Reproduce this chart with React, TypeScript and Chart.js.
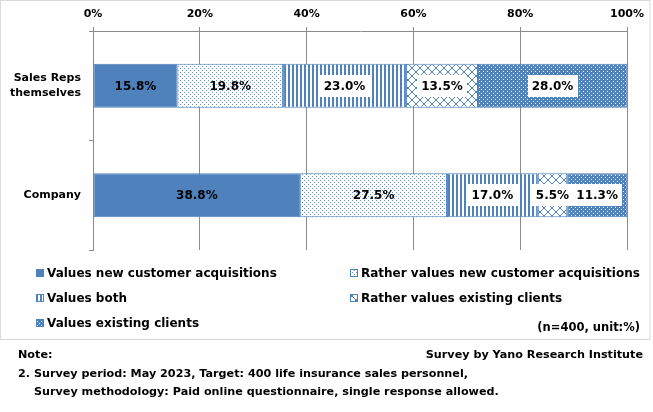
import React, { useEffect, useRef } from 'react';
import { Chart, registerables } from 'chart.js';

Chart.register(...registerables);

// ---------- data ----------
const categories: (string | string[])[] = [['Sales Reps', 'themselves'], 'Company'];
const seriesNames = [
  'Values new customer acquisitions',
  'Rather values new customer acquisitions',
  'Values both',
  'Rather values existing clients',
  'Values existing clients',
];
const valuesNewAcquisitions = [15.8, 38.8];
const ratherValuesNewAcquisitions = [19.8, 27.5];
const valuesBoth = [23.0, 17.0];
const ratherValuesExisting = [13.5, 5.5];
const valuesExisting = [28.0, 11.3];
const xTickValues = [0, 20, 40, 60, 80, 100];
const sampleNote = '(n=400, unit:%)';
const noteTitle = 'Note:';
const sourceText = 'Survey by Yano Research Institute';
const noteLine1 = '2. Survey period: May 2023, Target: 400 life insurance sales personnel,';
const noteLine2 = 'Survey methodology: Paid online questionnaire, single response allowed.';

// ---------- styles ----------
const BLUE = '#4F81BD';
const FONT = '"DejaVu Sans", sans-serif';
const kinds = ['solid', 'dots', 'vlines', 'cross', 'bluedots'];
const boxedLabel = [false, false, true, true, true];

function makePattern(kind: string): any {
  if (kind === 'solid') return BLUE;
  const c = document.createElement('canvas');
  const ctx = c.getContext('2d')!;
  if (kind === 'dots') {
    c.width = 4; c.height = 4;
    ctx.fillStyle = '#fff'; ctx.fillRect(0, 0, 4, 4);
    ctx.fillStyle = '#6F8FB8'; ctx.fillRect(0, 0, 1, 1); ctx.fillRect(2, 2, 1, 1);
  } else if (kind === 'vlines') {
    c.width = 4; c.height = 4;
    ctx.fillStyle = '#fff'; ctx.fillRect(0, 0, 4, 4);
    ctx.fillStyle = BLUE; ctx.fillRect(0, 0, 2, 4);
  } else if (kind === 'cross') {
    c.width = 8; c.height = 8;
    ctx.fillStyle = '#fff'; ctx.fillRect(0, 0, 8, 8);
    ctx.fillStyle = BLUE;
    for (let i = 0; i < 8; i++) { ctx.fillRect(i, i, 1, 1); ctx.fillRect(7 - i, i, 1, 1); }
  } else if (kind === 'bluedots') {
    c.width = 4; c.height = 4;
    ctx.fillStyle = BLUE; ctx.fillRect(0, 0, 4, 4);
    ctx.fillStyle = '#fff'; ctx.fillRect(1, 1, 1, 1); ctx.fillRect(3, 3, 1, 1);
  }
  return ctx.createPattern(c, 'repeat');
}

export default function App() {
  const ref = useRef<HTMLCanvasElement>(null);

  useEffect(() => {
    const canvas = ref.current!;
    const fills = kinds.map(makePattern);
    const seriesData = [valuesNewAcquisitions, ratherValuesNewAcquisitions, valuesBoth, ratherValuesExisting, valuesExisting];

    const segLabels = {
      id: 'segLabels',
      afterDatasetsDraw(chart: any) {
        const ctx = chart.ctx;
        ctx.save();
        ctx.font = `bold 12px ${FONT}`;
        ctx.textAlign = 'center';
        ctx.textBaseline = 'middle';
        chart.data.datasets.forEach((ds: any, di: number) => {
          const meta = chart.getDatasetMeta(di);
          meta.data.forEach((el: any, i: number) => {
            const v = ds.data[i];
            const { x, base, y } = el.getProps(['x', 'base', 'y'], true);
            const right = Math.min(x, chart.chartArea.right);
            const cx = (right + base) / 2;
            const txt = v.toFixed(1) + '%';
            if (boxedLabel[di]) {
              const w = ctx.measureText(txt).width + 8;
              ctx.fillStyle = '#fff';
              ctx.fillRect(Math.round(cx - w / 2), Math.round(y - 11), Math.round(w), 22);
            }
            ctx.fillStyle = '#000';
            ctx.fillText(txt, cx, y + 1);
          });
        });
        ctx.restore();
      },
    };

    const decor = {
      id: 'decor',
      afterDraw(chart: any) {
        const ctx = chart.ctx;
        ctx.save();
        // frame
        ctx.strokeStyle = '#D9D9D9';
        ctx.lineWidth = 1;
        ctx.strokeRect(0.5, 0.5, 649.5, 339);
        // legend
        const pos = [
          [36, 273], [350, 273],
          [36, 298], [350, 298],
          [36, 323],
        ];
        ctx.font = `bold 12px ${FONT}`;
        ctx.textBaseline = 'middle';
        ctx.textAlign = 'left';
        seriesNames.forEach((name, i) => {
          const [bx, by] = pos[i];
          ctx.fillStyle = fills[i];
          ctx.fillRect(bx, by - 4, 8, 8);
          ctx.strokeStyle = BLUE;
          ctx.strokeRect(bx + 0.5, by - 3.5, 7, 7);
          ctx.fillStyle = '#000';
          ctx.fillText(name, bx + 11, by + 1);
        });
        ctx.font = `bold 11.5px ${FONT}`;
        ctx.textAlign = 'right';
        ctx.fillText(sampleNote, 640, 328);
        // notes
        ctx.font = `bold 11.2px ${FONT}`;
        ctx.textAlign = 'left';
        ctx.fillText(noteTitle, 18, 355);
        ctx.fillText(noteLine1, 18, 374);
        ctx.fillText(noteLine2, 34, 392);
        ctx.textAlign = 'right';
        ctx.fillText(sourceText, 643, 355);
        ctx.restore();
      },
    };

    const chart = new Chart(canvas, {
      type: 'bar',
      data: {
        labels: categories as any,
        datasets: seriesNames.map((name, i) => ({
          label: name,
          data: seriesData[i],
          backgroundColor: fills[i],
          borderColor: BLUE,
          borderWidth: 1,
          borderSkipped: false,
          categoryPercentage: 1,
          barPercentage: 0.4,
        })),
      },
      options: {
        indexAxis: 'y',
        responsive: false,
        animation: false,
        events: [],
        layout: { padding: { left: 0, top: 0, right: 26, bottom: 162 } },
        plugins: { legend: { display: false }, tooltip: { enabled: false } },
        scales: {
          x: {
            position: 'top',
            stacked: true,
            min: 0,
            max: 100,
            afterBuildTicks: (scale: any) => { scale.ticks = xTickValues.map((v) => ({ value: v })); },
            afterFit: (scale: any) => { scale.height = 31; },
            ticks: {
              callback: (v: any) => v + '%',
              color: '#000',
              padding: 6,
              font: { family: FONT, size: 11, weight: 'bold' },
              maxRotation: 0,
            },
            grid: { color: '#8C8C8C', tickLength: 4, drawTicks: true },
            border: { display: true, color: '#8C8C8C' },
          },
          y: {
            stacked: true,
            afterFit: (scale: any) => { scale.width = 93; },
            ticks: {
              color: '#000',
              padding: 8,
              font: { family: FONT, size: 11, weight: 'bold', lineHeight: 1.4 },
            },
            grid: { offset: true, drawOnChartArea: false, tickLength: 4, color: '#8C8C8C' },
            border: { display: true, color: '#8C8C8C' },
          },
        },
      },
      plugins: [segLabels, decor],
    } as any);
    return () => chart.destroy();
  }, []);

  return (
    <div style={{ position: 'fixed', left: 0, top: 0, width: 653, height: 412, background: '#fff' }}>
      <canvas ref={ref} width={653} height={412} style={{ display: 'block', width: 653, height: 412 }} />
    </div>
  );
}
